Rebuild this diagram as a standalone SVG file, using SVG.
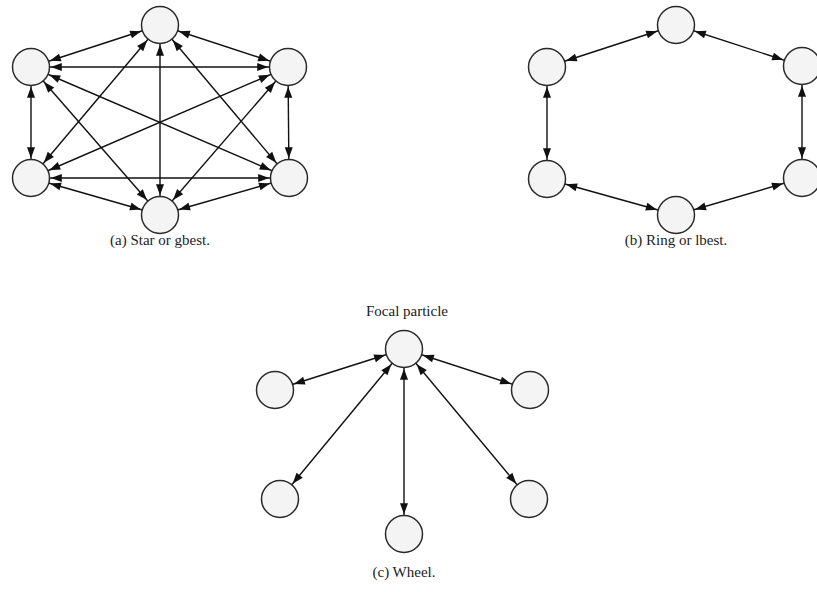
<svg xmlns="http://www.w3.org/2000/svg" width="817" height="592" viewBox="0 0 817 592">
<style>
.n{fill:#f4f4f4;stroke:#2a2a2a;stroke-width:1.5}
.e{stroke:#111;stroke-width:1.4;fill:none;marker-start:url(#ah);marker-end:url(#ah)}
.t{font-family:"Liberation Serif","Times New Roman",serif;font-size:15px;fill:#222;text-anchor:middle}
</style>
<defs>
<marker id="ah" markerUnits="userSpaceOnUse" markerWidth="11" markerHeight="8" refX="30.8" refY="4" orient="auto-start-reverse" overflow="visible"><path d="M0,0 L11,4 L0,8 z" fill="#111"/></marker>
</defs>
<rect width="817" height="592" fill="#fff"/>
<g id="connectors">
<line class="e" x1="160" y1="25" x2="31" y2="67"/>
<line class="e" x1="160" y1="25" x2="288" y2="67"/>
<line class="e" x1="160" y1="25" x2="31" y2="178"/>
<line class="e" x1="160" y1="25" x2="289" y2="178"/>
<line class="e" x1="160" y1="25" x2="160" y2="215"/>
<line class="e" x1="31" y1="67" x2="288" y2="67"/>
<line class="e" x1="31" y1="67" x2="31" y2="178"/>
<line class="e" x1="31" y1="67" x2="289" y2="178"/>
<line class="e" x1="31" y1="67" x2="160" y2="215"/>
<line class="e" x1="288" y1="67" x2="31" y2="178"/>
<line class="e" x1="288" y1="67" x2="289" y2="178"/>
<line class="e" x1="288" y1="67" x2="160" y2="215"/>
<line class="e" x1="31" y1="178" x2="289" y2="178"/>
<line class="e" x1="31" y1="178" x2="160" y2="215"/>
<line class="e" x1="289" y1="178" x2="160" y2="215"/>
<line class="e" x1="676" y1="25" x2="547" y2="67"/>
<line class="e" x1="676" y1="25" x2="802" y2="66"/>
<line class="e" x1="547" y1="67" x2="547" y2="179"/>
<line class="e" x1="802" y1="66" x2="802" y2="178"/>
<line class="e" x1="547" y1="179" x2="676" y2="215"/>
<line class="e" x1="802" y1="178" x2="676" y2="215"/>
<line class="e" x1="404" y1="349" x2="275" y2="390"/>
<line class="e" x1="404" y1="349" x2="530" y2="390"/>
<line class="e" x1="404" y1="349" x2="280" y2="499"/>
<line class="e" x1="404" y1="349" x2="529" y2="499"/>
<line class="e" x1="404" y1="349" x2="404" y2="534"/>
</g>
<g id="star">
<g id="a-top"><circle class="n" cx="160" cy="25" r="18.5"/></g>
<g id="a-lt"><circle class="n" cx="31" cy="67" r="18.5"/></g>
<g id="a-rt"><circle class="n" cx="288" cy="67" r="18.5"/></g>
<g id="a-lb"><circle class="n" cx="31" cy="178" r="18.5"/></g>
<g id="a-rb"><circle class="n" cx="289" cy="178" r="18.5"/></g>
<g id="a-bot"><circle class="n" cx="160" cy="215" r="18.5"/></g>
<text class="t" x="160" y="245">(a) Star or gbest.</text>
</g>
<g id="ring">
<g id="b-top"><circle class="n" cx="676" cy="25" r="18.5"/></g>
<g id="b-lt"><circle class="n" cx="547" cy="67" r="18.5"/></g>
<g id="b-rt"><circle class="n" cx="802" cy="66" r="18.5"/></g>
<g id="b-lb"><circle class="n" cx="547" cy="179" r="18.5"/></g>
<g id="b-rb"><circle class="n" cx="802" cy="178" r="18.5"/></g>
<g id="b-bot"><circle class="n" cx="676" cy="215" r="18.5"/></g>
<text class="t" x="676" y="245">(b) Ring or lbest.</text>
</g>
<g id="wheel">
<text class="t" x="407" y="316">Focal particle</text>
<g id="c-focal"><circle class="n" cx="404" cy="349" r="18.5"/></g>
<g id="c-l"><circle class="n" cx="275" cy="390" r="18.5"/></g>
<g id="c-r"><circle class="n" cx="530" cy="390" r="18.5"/></g>
<g id="c-bl"><circle class="n" cx="280" cy="499" r="18.5"/></g>
<g id="c-br"><circle class="n" cx="529" cy="499" r="18.5"/></g>
<g id="c-bot"><circle class="n" cx="404" cy="534" r="18.5"/></g>
<text class="t" x="404" y="577">(c) Wheel.</text>
</g>
</svg>
